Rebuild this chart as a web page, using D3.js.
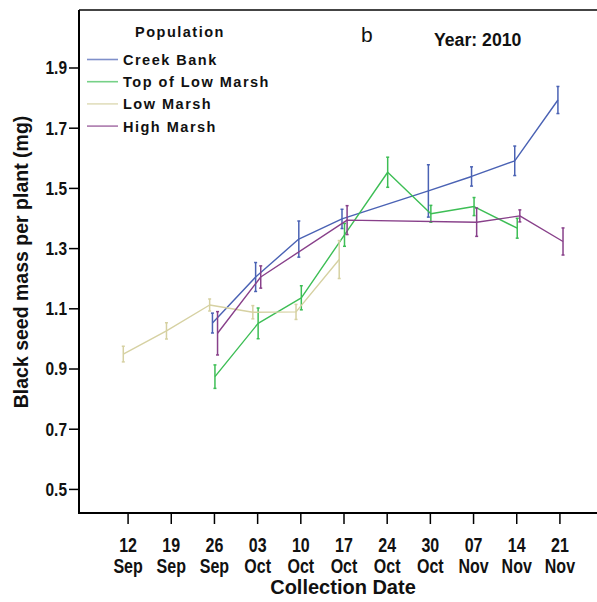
<!DOCTYPE html>
<html>
<head>
<meta charset="utf-8">
<script src="https://cdn.jsdelivr.net/npm/d3@7/dist/d3.min.js"></script>
<style>
  html, body { margin: 0; padding: 0; background: #fff; }
  svg { display: block; }
  .sans { font-family: "Liberation Sans", Arial, sans-serif; }
</style>
</head>
<body>
<svg id="chart" width="597" height="602"></svg>
<script>
// ---- data ----
const dayLabels   = ["12","19","26","03","10","17","24","30","07","14","21"];
const monthLabels = ["Sep","Sep","Sep","Oct","Oct","Oct","Oct","Oct","Nov","Nov","Nov"];
const yTicks = [0.5, 0.7, 0.9, 1.1, 1.3, 1.5, 1.7, 1.9];
const seriesNames = ["Creek Bank", "Top of Low Marsh", "Low Marsh", "High Marsh"];

const creekBank    = [null, null, 1.051, 1.204, 1.330, 1.397, null, 1.490, 1.538, 1.590, 1.792];
const creekBankErr = [null, null, 0.033, 0.048, 0.060, 0.032, null, 0.087, 0.032, 0.049, 0.045];
const topLow       = [null, null, 0.873, 1.050, 1.135, 1.344, 1.552, 1.414, 1.438, 1.366, null];
const topLowErr    = [null, null, 0.039, 0.051, 0.040, 0.038, 0.050, 0.028, 0.030, 0.033, null];
const lowMarsh     = [0.948, 1.025, 1.111, 1.087, 1.088, 1.262, null, null, null, null, null];
const lowMarshErr  = [0.026, 0.027, 0.020, 0.022, 0.025, 0.063, null, null, null, null, null];
const highMarsh    = [null, null, 1.017, 1.204, null, 1.393, null, null, 1.386, 1.407, 1.322];
const highMarshErr = [null, null, 0.072, 0.037, null, 0.048, null, null, 0.047, 0.020, 0.045];

// ---- styling ----
const colors = ["#4A62B4", "#3DBE55", "#D6D1A2", "#88408A"];
const dodge  = [-1.5, 1.0, -4.3, 3.6];

const svg = d3.select("#chart");
const pLeft = 79, pRight = 608, pTop = 10, pBottom = 513;
const dateKeys = dayLabels.map((d, i) => d + " " + monthLabels[i]);

const x = d3.scalePoint().domain(dateKeys).range([pLeft, pRight]).padding(1.125);
const y = d3.scaleLinear().domain([0.42, 2.091]).range([pBottom, pTop]);

// top border
svg.append("line").attr("x1", pLeft).attr("x2", 597).attr("y1", pTop).attr("y2", pTop)
  .attr("stroke", "#444").attr("stroke-width", 2);

// y axis
const yAxis = d3.axisLeft(y).tickValues(yTicks).tickFormat("").tickSize(10);
const gy = svg.append("g").attr("transform", `translate(${pLeft},0)`).call(yAxis);
gy.select(".domain").attr("stroke", "#000").attr("stroke-width", 2)
  .attr("d", `M0,${pTop}V${pBottom}`);
gy.selectAll(".tick line").attr("stroke", "#000").attr("stroke-width", 1.5);
gy.selectAll(".tick").append("g").attr("transform", "translate(-12,0) scale(0.86,1)")
  .append("text").attr("class", "sans").attr("font-weight", "bold")
  .attr("font-size", 18).attr("fill", "#111").attr("text-anchor", "end")
  .attr("dy", "0.36em").text(d => d3.format(".1f")(d));

// x axis
const xAxis = d3.axisBottom(x).tickSize(11).tickFormat(() => "");
const gx = svg.append("g").attr("transform", `translate(0,${pBottom})`).call(xAxis);
gx.select(".domain").attr("stroke", "#000").attr("stroke-width", 2)
  .attr("d", `M${pLeft - 1},0H597`);
gx.selectAll(".tick line").attr("stroke", "#000").attr("stroke-width", 1.5);
gx.selectAll(".tick").each(function(d, i) {
  const t = d3.select(this).append("g").attr("transform", "scale(0.8,1)")
    .append("text").attr("class", "sans").attr("font-weight", "bold")
    .attr("font-size", 20).attr("fill", "#111").attr("text-anchor", "middle");
  t.append("tspan").attr("x", 0).attr("y", 39).text(dayLabels[i]);
  t.append("tspan").attr("x", 0).attr("y", 60).text(monthLabels[i]);
});

// axis titles
svg.append("text").attr("class", "sans").attr("font-weight", "bold")
  .attr("font-size", 20).attr("text-anchor", "middle")
  .attr("x", 343).attr("y", 594).attr("fill", "#111").text("Collection Date");
svg.append("text").attr("class", "sans").attr("font-weight", "bold")
  .attr("font-size", 19.5).attr("text-anchor", "middle")
  .attr("transform", "translate(28,262) rotate(-90)").attr("fill", "#111")
  .text("Black seed mass per plant (mg)");

// series
const vals = [creekBank, topLow, lowMarsh, highMarsh];
const errs = [creekBankErr, topLowErr, lowMarshErr, highMarshErr];
const line = d3.line().x(d => d.px).y(d => y(d.v));

vals.forEach((arr, s) => {
  const pts = arr.map((v, i) => ({ v, e: errs[s][i], px: x(dateKeys[i]) + dodge[s] }))
    .filter(d => d.v != null);
  const g = svg.append("g");
  g.append("path").datum(pts).attr("d", line).attr("fill", "none")
    .attr("stroke", colors[s]).attr("stroke-width", 1.4).attr("stroke-linejoin", "round");
  pts.forEach(d => {
    g.append("line").attr("x1", d.px).attr("x2", d.px)
      .attr("y1", y(d.v - d.e)).attr("y2", y(d.v + d.e))
      .attr("stroke", colors[s]).attr("stroke-width", 1.5);
    [d.v - d.e, d.v + d.e].forEach(c => {
      g.append("line").attr("x1", d.px - 1.5).attr("x2", d.px + 1.5)
        .attr("y1", y(c)).attr("y2", y(c))
        .attr("stroke", colors[s]).attr("stroke-width", 1.5);
    });
  });
});

// legend
svg.append("text").attr("class", "sans").attr("font-weight", "bold").attr("font-size", 14.5)
  .attr("x", 135).attr("y", 37).attr("fill", "#111").style("letter-spacing", "1.5px").text("Population");
seriesNames.forEach((n, i) => {
  const ly = 59.5 + i * 22.2;
  svg.append("line").attr("x1", 87).attr("x2", 118).attr("y1", ly).attr("y2", ly)
    .attr("stroke", colors[i]).attr("stroke-width", 1.6).attr("opacity", 0.7);
  svg.append("text").attr("class", "sans").attr("font-weight", "bold").attr("font-size", 14.5)
    .attr("x", 123).attr("y", ly + 5.5).attr("fill", "#111").style("letter-spacing", "1.5px").text(n);
});

// panel annotations
svg.append("text").attr("class", "sans").attr("font-size", 21).attr("x", 361).attr("y", 42)
  .attr("fill", "#111").text("b");
svg.append("g").attr("transform", "translate(434,46) scale(0.93,1)")
  .append("text").attr("class", "sans").attr("font-weight", "bold").attr("font-size", 19)
  .attr("fill", "#111").text("Year: 2010");
</script>
</body>
</html>
